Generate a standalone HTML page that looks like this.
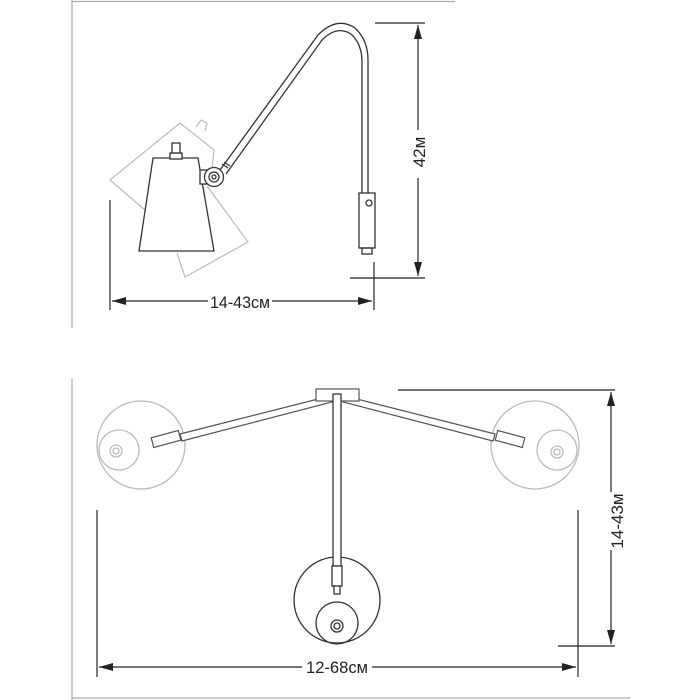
<!DOCTYPE html>
<html><head><meta charset="utf-8"><style>
html,body{margin:0;padding:0;background:#fff;}
svg{display:block;}
text{font-family:"Liberation Sans",sans-serif;}
</style></head><body>
<svg width="700" height="700" viewBox="0 0 700 700" xmlns="http://www.w3.org/2000/svg">
<defs>
<marker id="ar" viewBox="0 0 14 8" refX="14" refY="4" markerWidth="14" markerHeight="8" orient="auto-start-reverse" markerUnits="userSpaceOnUse"><path d="M0,0 L14,4 L0,8 Z" fill="#222"/></marker>
</defs>
<g stroke="#aaa" stroke-width="1.2" fill="none">
<line x1="72" y1="1.5" x2="455" y2="1.5"/>
<line x1="72" y1="0" x2="72" y2="328"/>
<line x1="72" y1="378" x2="72" y2="700"/>
<line x1="72" y1="698" x2="630" y2="698"/>
</g>

<g stroke="#bbb" stroke-width="1.2" fill="none">
<path d="M145,210 L110,180 L180,123 L214,150 L212,168"/>
<path d="M196,127 l5,-7 l6,3 l-2,8"/>
<path d="M207,186 L248,242 L185,277 L177,253"/>
</g>
<g stroke="#333" stroke-width="1.3" fill="none">
<path d="M220,170 L318,35 Q337,16 355,28 Q368,40 368,60 L368,193"/>
<path d="M226,174 L322,40 Q337,25 351,34 Q362,44 362,62 L362,193"/>
<rect x="359" y="193" width="16" height="55" fill="#fff"/>
<circle cx="369" cy="203" r="3"/>
<rect x="362" y="248" width="10" height="6"/>
<path d="M153,158 L198,158 L214,251 L139,251 Z" fill="#fff"/>
<rect x="170" y="153" width="12" height="6" fill="#fff"/>
<rect x="172" y="143" width="8" height="10" fill="#fff"/>
<rect x="200" y="170" width="8" height="14" fill="#fff"/>
<circle cx="214" cy="177" r="9.5" fill="#fff"/>
<circle cx="214" cy="177" r="5"/>
<circle cx="214" cy="177" r="2"/>
<path d="M222,164 l6,4 M224,162 l6,4"/>
</g>
<g stroke="#222" stroke-width="1.2" fill="none">
<line x1="375" y1="23" x2="425" y2="23"/>
<line x1="350" y1="278" x2="425" y2="278"/>
<line x1="418" y1="25" x2="418" y2="130" marker-start="url(#ar)"/>
<line x1="418" y1="178" x2="418" y2="276" marker-end="url(#ar)"/>
<line x1="110" y1="200" x2="110" y2="310"/>
<line x1="374" y1="262" x2="374" y2="310"/>
<line x1="112" y1="301" x2="208" y2="301" marker-start="url(#ar)"/>
<line x1="272" y1="301" x2="372" y2="301" marker-end="url(#ar)"/>
</g>
<text x="240" y="308" font-size="17" text-anchor="middle" fill="#222" textLength="60" lengthAdjust="spacingAndGlyphs">14-43см</text>
<text transform="translate(425,152) rotate(-90)" font-size="17" text-anchor="middle" fill="#222">42м</text>

<g stroke="#bbb" stroke-width="1.3" fill="none">
<circle cx="141" cy="445" r="44"/>
<circle cx="119" cy="450" r="20"/>
<circle cx="116" cy="451" r="6"/>
<circle cx="116" cy="451" r="3"/>
<circle cx="535" cy="445" r="44"/>
<circle cx="557" cy="450" r="20"/>
<circle cx="557" cy="452" r="6"/>
<circle cx="557" cy="452" r="3"/>
</g>
<g stroke="#555" stroke-width="1.2" fill="#fff">
<path d="M180,434 L330,396 L332,402 L182,441 Z"/>
<path d="M495,434 L345,396 L343,402 L493,441 Z"/>
<rect x="152" y="434" width="28" height="10" transform="rotate(-15 166 439)"/>
<rect x="496" y="434" width="28" height="10" transform="rotate(15 510 439)"/>
<rect x="316" y="389" width="43" height="12"/>
</g>
<g stroke="#333" stroke-width="1.3" fill="none">
<circle cx="337" cy="600" r="43" fill="#fff"/>
<circle cx="337" cy="623" r="21"/>
<circle cx="337" cy="626" r="6"/>
<circle cx="337" cy="626" r="3"/>
<rect x="333" y="394" width="8" height="172" fill="#fff"/>
<rect x="332" y="566" width="10" height="20" fill="#fff"/>
<rect x="334" y="586" width="6" height="8" fill="#fff"/>
</g>
<g stroke="#222" stroke-width="1.2" fill="none">
<line x1="398" y1="390" x2="615" y2="390"/>
<line x1="558" y1="646" x2="615" y2="646"/>
<line x1="611" y1="392" x2="611" y2="492" marker-start="url(#ar)"/>
<line x1="611" y1="550" x2="611" y2="644" marker-end="url(#ar)"/>
<line x1="97" y1="510" x2="97" y2="677"/>
<line x1="578" y1="510" x2="578" y2="677"/>
<line x1="99" y1="667" x2="302" y2="667" marker-start="url(#ar)"/>
<line x1="372" y1="667" x2="576" y2="667" marker-end="url(#ar)"/>
</g>
<text x="337" y="673" font-size="17" text-anchor="middle" fill="#222" textLength="62" lengthAdjust="spacingAndGlyphs">12-68см</text>
<text transform="translate(623,521) rotate(-90)" font-size="17" text-anchor="middle" fill="#222">14-43м</text>
</svg>
</body></html>
